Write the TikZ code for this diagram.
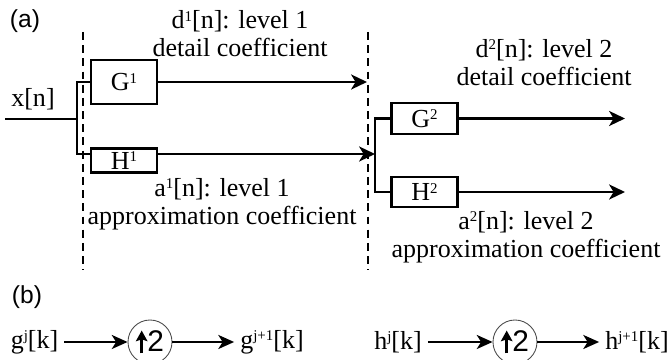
\documentclass[tikz,border=0pt]{standalone}
\usepackage{fontspec}
\setmainfont{Liberation Serif}
\setsansfont{Liberation Sans}
\usetikzlibrary{arrows.meta}

% small raised index, top level with the capitals
\newcommand{\idx}[1]{\raisebox{4.2pt}{\fontsize{8.5}{8.5}\selectfont #1}}
% bold up arrow used inside the upsampler circles
\newcommand{\upglyph}{\tikz[baseline=0pt]\draw[line width=1.4pt,
  -{Stealth[length=6pt, width=6.5pt, inset=1pt]}] (0,-1pt) -- (0,12pt);}

\begin{document}
\begin{tikzpicture}[
    font=\fontsize{14.8}{16}\selectfont,
    filt/.style={draw, line width=1.6pt, fill=white, minimum width=1.32cm, inner sep=0pt},
    wire/.style={line width=1.6pt},
    arr/.style={-{Stealth[length=9pt, width=8.5pt, inset=2.5pt]}, line width=1.6pt},
    sarr/.style={-{Stealth[length=9pt, width=8pt, inset=2.5pt]}, line width=1.2pt},
    cut/.style={dash pattern=on 4.5pt off 3pt, line width=0.6pt},
    lab/.style={align=center},
    tag/.style={font=\sffamily\fontsize{14}{15.5}\selectfont},
    upsamp/.style={circle, draw=black!70, line width=0.5pt, minimum size=0.88cm,
                   inner sep=0pt, font=\sffamily\fontsize{17}{17}\selectfont},
  ]
  \useasboundingbox (0,0) rectangle (13.38,-7.2);

  % (a) two-level decomposition
  \node[tag] (taga) at (0.5,-0.42) {(a)};
  \coordinate (cut1top) at (1.66,-0.64);
  \coordinate (cut1bot) at (1.66,-5.4);
  \coordinate (cut2top) at (7.36,-0.64);
  \coordinate (cut2bot) at (7.36,-5.4);
  \draw[cut] (cut1top) -- (cut1bot);
  \draw[cut] (cut2top) -- (cut2bot);

  \node (xn) at (0.66,-1.98) {x[n]};
  \coordinate (xin)    at (0.1,-2.38);
  \coordinate (split1) at (1.54,-2.38);
  \coordinate (h1row)  at (1.54,-3.08);
  \node[filt, minimum height=0.88cm] (G1) at (2.48,-1.64) {G\idx{1}};
  \node[filt, minimum height=0.47cm] (H1) at (2.48,-3.21) {H\idx{1}};
  \coordinate (d1end)  at (7.34,-1.64);
  \coordinate (split2) at (7.5,-3.08);

  \draw[wire] (xin) -- (split1) |- (G1.west);
  \draw[wire] (split1) |- (H1.west |- h1row);
  \draw[arr] (G1) -- (d1end);
  \draw[arr] (H1.east |- h1row) -- (split2);

  \node[filt, minimum height=0.62cm] (G2) at (8.49,-2.37) {G\idx{2}};
  \node[filt, minimum height=0.6cm]  (H2) at (8.49,-3.84) {H\idx{2}};
  \coordinate (d2end) at (12.5,-2.37);
  \coordinate (a2end) at (12.5,-3.84);
  \draw[wire] (G2.west) -| (split2) |- (H2.west);
  \draw[arr] (G2) -- (d2end);
  \draw[arr] (H2) -- (a2end);

  \node[lab] (d1lab) at (4.8,-0.68)  {d\idx{1}[n]: level 1\\detail coefficient};
  \node[lab] (a1lab) at (4.44,-4.08) {a\idx{1}[n]: level 1\\approximation coefficient};
  \node[lab] (d2lab) at (10.88,-1.25) {d\idx{2}[n]: level 2\\detail coefficient};
  \node[lab] (a2lab) at (10.52,-4.74) {a\idx{2}[n]: level 2\\approximation coefficient};

  % (b) upsampling
  \node[tag] (tagb) at (0.54,-5.94) {(b)};
  \node (gin)  at (0.69,-6.84) {g\idx{j}[k]};
  \node[upsamp] (up1) at (3.0,-6.84) {\upglyph2};
  \node (gout) at (5.44,-6.84) {g\idx{j+1}[k]};
  \draw[sarr] (gin) -- (up1);
  \draw[sarr] (up1) -- (gout);

  \node (hin)  at (7.96,-6.84) {h\idx{j}[k]};
  \node[upsamp] (up2) at (10.3,-6.84) {\upglyph2};
  \node (hout) at (12.74,-6.84) {h\idx{j+1}[k]};
  \draw[sarr] (hin) -- (up2);
  \draw[sarr] (up2) -- (hout);
\end{tikzpicture}
\end{document}
